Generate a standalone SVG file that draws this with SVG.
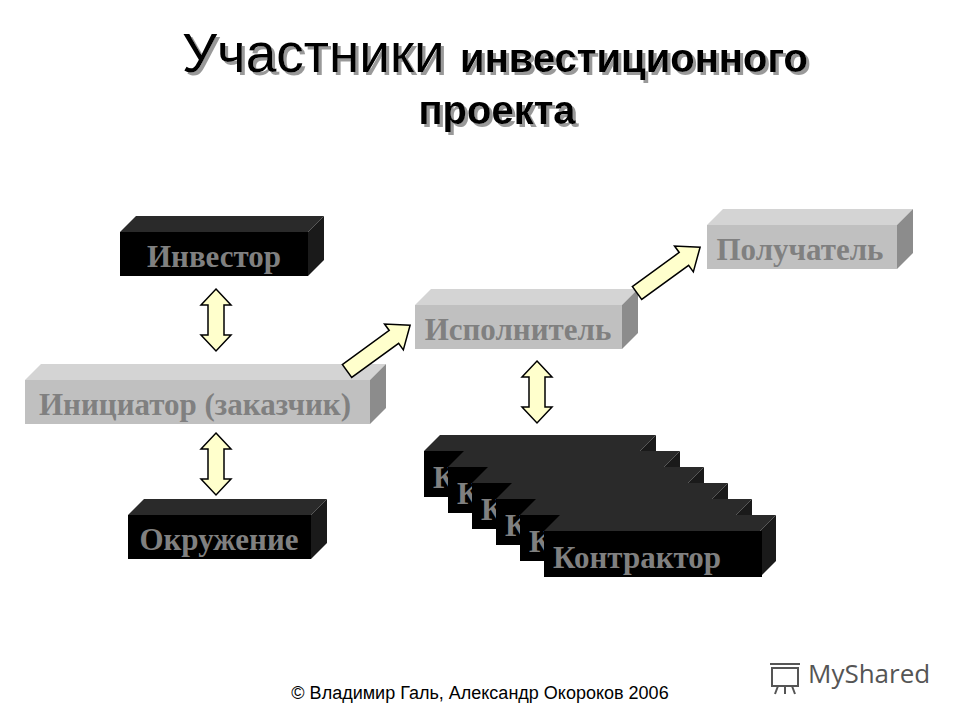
<svg xmlns="http://www.w3.org/2000/svg" width="960" height="720" viewBox="0 0 960 720">
<defs>
<style>
.lbl{font-family:"Liberation Serif",serif;font-weight:bold;font-size:31px;fill:#808080}
.dk .f{fill:#000}.dk .t{fill:#2a2a2a}.dk .s{fill:#1a1a1a}
.lt .f{fill:#c0c0c0}.lt .t{fill:#d4d4d4}.lt .s{fill:#8c8c8c}
.ar{fill:#ffffcc;stroke:#000;stroke-width:1.5;stroke-linejoin:miter}
.ttl{font-family:"Liberation Sans",Arial,sans-serif;fill:#000}
</style>
<filter id="sh" x="-5%" y="-5%" width="110%" height="120%"><feDropShadow dx="3" dy="3" stdDeviation="0.5" flood-color="#999"/></filter>
</defs>
<rect width="960" height="720" fill="#fff"/>
<g filter="url(#sh)">
<text class="ttl" x="495" y="72" text-anchor="middle"><tspan font-size="55">Участники </tspan><tspan font-size="40" font-weight="bold">инвестиционного</tspan></text>
<text class="ttl" x="497" y="124" text-anchor="middle" font-size="40" font-weight="bold">проекта</text>
</g>
<g id="investor" class="dk"><polygon class="t" points="120,232 136,216 324,216 308,232"/><polygon class="s" points="308,232 324,216 324,260 308,276"/><rect class="f" x="120" y="232" width="188" height="44"/><text class="lbl" x="214" y="267" text-anchor="middle">Инвестор</text></g>
<g id="initiator" class="lt"><polygon class="t" points="25,380 41,364 386,364 370,380"/><polygon class="s" points="370,380 386,364 386,408 370,424"/><rect class="f" x="25" y="380" width="345" height="44"/><text class="lbl" x="195" y="415" text-anchor="middle">Инициатор (заказчик)</text></g>
<g id="env" class="dk"><polygon class="t" points="128,515 144,499 327,499 311,515"/><polygon class="s" points="311,515 327,499 327,543 311,559"/><rect class="f" x="128" y="515" width="183" height="44"/><text class="lbl" x="219" y="550" text-anchor="middle">Окружение</text></g>
<g id="executor" class="lt"><polygon class="t" points="415,305 431,289 638,289 622,305"/><polygon class="s" points="622,305 638,289 638,333 622,349"/><rect class="f" x="415" y="305" width="207" height="44"/><text class="lbl" x="518" y="340" text-anchor="middle">Исполнитель</text></g>
<g id="receiver" class="lt"><polygon class="t" points="707,225 723,209 913,209 897,225"/><polygon class="s" points="897,225 913,209 913,253 897,269"/><rect class="f" x="707" y="225" width="190" height="44"/><text class="lbl" x="800" y="260" text-anchor="middle">Получатель</text></g>
<g id="contractors" class="dk">
<g transform="translate(0,0)"><polygon class="t" points="424,451 440,435 656,435 640,451"/><polygon class="s" points="640,451 656,435 656,481 640,497"/><rect class="f" x="424" y="451" width="216" height="46"/><text class="lbl" x="433" y="488">К</text></g>
<g transform="translate(24,16)"><polygon class="t" points="424,451 440,435 656,435 640,451"/><polygon class="s" points="640,451 656,435 656,481 640,497"/><rect class="f" x="424" y="451" width="216" height="46"/><text class="lbl" x="433" y="488">К</text></g>
<g transform="translate(48,32)"><polygon class="t" points="424,451 440,435 656,435 640,451"/><polygon class="s" points="640,451 656,435 656,481 640,497"/><rect class="f" x="424" y="451" width="216" height="46"/><text class="lbl" x="433" y="488">К</text></g>
<g transform="translate(72,48)"><polygon class="t" points="424,451 440,435 656,435 640,451"/><polygon class="s" points="640,451 656,435 656,481 640,497"/><rect class="f" x="424" y="451" width="216" height="46"/><text class="lbl" x="433" y="488">К</text></g>
<g transform="translate(96,64)"><polygon class="t" points="424,451 440,435 656,435 640,451"/><polygon class="s" points="640,451 656,435 656,481 640,497"/><rect class="f" x="424" y="451" width="216" height="46"/><text class="lbl" x="433" y="488">К</text></g>
<g transform="translate(120,80)"><polygon class="t" points="424,451 440,435 656,435 640,451"/><polygon class="s" points="640,451 656,435 656,481 640,497"/><rect class="f" x="424" y="451" width="218" height="46"/><text class="lbl" x="433" y="488">Контрактор</text></g>
</g>
<g id="connectors">
<polygon class="ar" points="216,289 231,305 224,305 224,335 231,335 216,351 201,335 208,335 208,305 201,305"/>
<polygon class="ar" points="216,433 231,449 224,449 224,479 231,479 216,495 201,479 208,479 208,449 201,449"/>
<polygon class="ar" points="537,361 552,377 545,377 545,407 552,407 537,423 522,407 529,407 529,377 522,377"/>
<polygon class="ar" transform="translate(347,371) rotate(-36)" points="0,-8 58,-8 58,-16 78,0 58,16 58,8 0,8"/>
<polygon class="ar" transform="translate(637,293) rotate(-36)" points="0,-8 58,-8 58,-16 78,0 58,16 58,8 0,8"/>
</g>
<text x="480" y="699" text-anchor="middle" font-family="Liberation Sans,Arial,sans-serif" font-size="18" fill="#000">© Владимир Галь, Александр Окороков 2006</text>
<text x="808" y="683" font-family="Open Sans,sans-serif" font-size="26" fill="#555">MyShared</text>
<g fill="none" stroke="#555" stroke-width="2"><rect x="772" y="668" width="26" height="18"/><path d="M770,664h30M778,686l-3,8M785,686v8M792,686l3,8"/></g>
</svg>
